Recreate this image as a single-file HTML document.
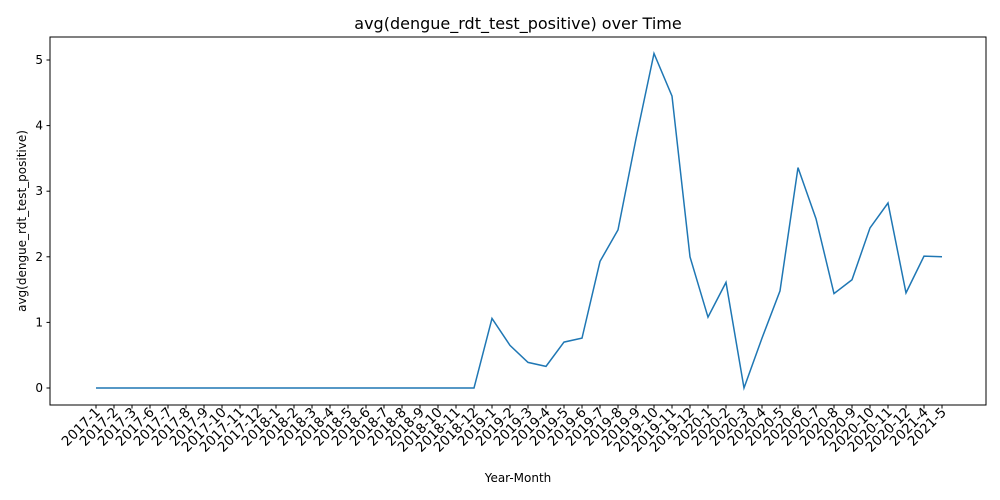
<!DOCTYPE html>
<html><head><meta charset="utf-8"><style>
body{margin:0;background:#fff;}
svg{display:block;font-family:"DejaVu Sans","Liberation Sans",sans-serif;}
</style></head><body>
<svg id="chart" width="1000" height="500">
<rect width="1000" height="500" fill="#fff"/>
<text x="518" y="29" font-size="16" text-anchor="middle">avg(dengue_rdt_test_positive) over Time</text>
<text x="518" y="482" font-size="12" text-anchor="middle">Year-Month</text>
<text transform="translate(26,221) rotate(-90)" font-size="12" text-anchor="middle">avg(dengue_rdt_test_positive)</text>
<g id="axes"></g>
<rect x="50" y="37" width="936" height="368" fill="none" stroke="#000" stroke-width="1"/>
</svg>
<script>
const categories=["2017-1","2017-2","2017-3","2017-6","2017-7","2017-8","2017-9","2017-10","2017-11","2017-12",
"2018-1","2018-2","2018-3","2018-4","2018-5","2018-6","2018-7","2018-8","2018-9","2018-10","2018-11","2018-12",
"2019-1","2019-2","2019-3","2019-4","2019-5","2019-6","2019-7","2019-8","2019-9","2019-10","2019-11","2019-12",
"2020-1","2020-2","2020-3","2020-4","2020-5","2020-6","2020-7","2020-8","2020-9","2020-10","2020-11","2020-12",
"2021-4","2021-5"];
const values=[0,0,0,0,0,0,0,0,0,0,0,0,0,0,0,0,0,0,0,0,0,0,
1.06,0.65,0.39,0.33,0.70,0.76,1.93,2.41,3.8,5.1,4.45,2.0,
1.08,1.61,0,0.76,1.48,3.36,2.58,1.44,1.65,2.44,2.82,1.45,
2.01,2.0];
const yTicks=[0,1,2,3,4,5];
const NS="http://www.w3.org/2000/svg";
const g=document.getElementById('axes');
const x=i=>96+i*(942-96)/(categories.length-1);
const y=v=>388-v*(388-60)/5;
function mk(t,a){const e=document.createElementNS(NS,t);for(const k in a)e.setAttribute(k,a[k]);g.appendChild(e);return e;}
yTicks.forEach(v=>{
 const t=mk('line',{x1:46.5,x2:50,y1:y(v),y2:y(v),stroke:'#000'});
 
 
 const l=mk('text',{x:43,y:y(v)+4,'font-size':12,'text-anchor':'end'});l.textContent=v;
 
 
});
categories.forEach((c,i)=>{
 const t=mk('line',{x1:x(i),x2:x(i),y1:405,y2:408.5,stroke:'#000'});
 
 
 const l=mk('text',{transform:`translate(${x(i)+5},${413}) rotate(-45)`,'font-size':13.5,'text-anchor':'end'});
 l.textContent=c;
 
 
});
const p=mk('polyline',{points:values.map((v,i)=>x(i)+','+y(v)).join(' '),fill:'none',stroke:'#1f77b4','stroke-width':1.5});


</script>
</body></html>
